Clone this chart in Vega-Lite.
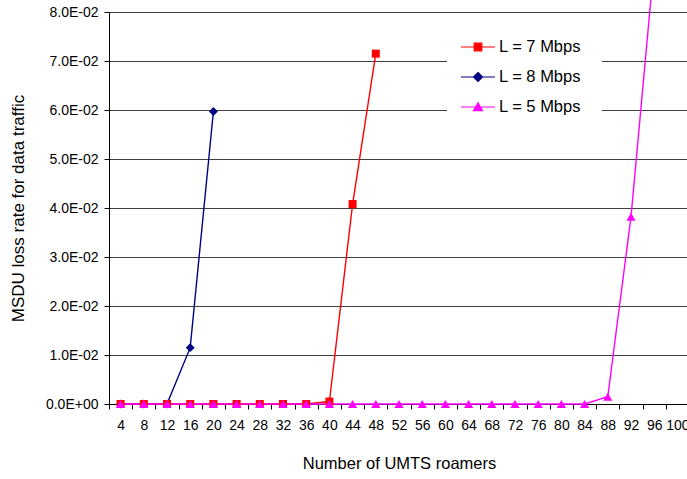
{
  "$schema": "https://vega.github.io/schema/vega-lite/v6.json",
  "width": 580,
  "height": 392,
  "autosize": {"type": "none"},
  "padding": {"left": 109, "top": 12, "right": 0, "bottom": 75},
  "background": "white",
  "config": {"view": {"stroke": null}, "font": "Liberation Sans"},
  "data": {"values": [
    {"series": "L = 8 Mbps", "roamers": 4, "loss": 0},
    {"series": "L = 8 Mbps", "roamers": 8, "loss": 0},
    {"series": "L = 8 Mbps", "roamers": 12, "loss": 0},
    {"series": "L = 8 Mbps", "roamers": 16, "loss": 0.0115},
    {"series": "L = 8 Mbps", "roamers": 20, "loss": 0.0597},
    {"series": "L = 7 Mbps", "roamers": 4, "loss": 0},
    {"series": "L = 7 Mbps", "roamers": 8, "loss": 0},
    {"series": "L = 7 Mbps", "roamers": 12, "loss": 0},
    {"series": "L = 7 Mbps", "roamers": 16, "loss": 0},
    {"series": "L = 7 Mbps", "roamers": 20, "loss": 0},
    {"series": "L = 7 Mbps", "roamers": 24, "loss": 0},
    {"series": "L = 7 Mbps", "roamers": 28, "loss": 0},
    {"series": "L = 7 Mbps", "roamers": 32, "loss": 0},
    {"series": "L = 7 Mbps", "roamers": 36, "loss": 0},
    {"series": "L = 7 Mbps", "roamers": 40, "loss": 0.0005},
    {"series": "L = 7 Mbps", "roamers": 44, "loss": 0.0408},
    {"series": "L = 7 Mbps", "roamers": 48, "loss": 0.0715},
    {"series": "L = 5 Mbps", "roamers": 4, "loss": 0},
    {"series": "L = 5 Mbps", "roamers": 8, "loss": 0},
    {"series": "L = 5 Mbps", "roamers": 12, "loss": 0},
    {"series": "L = 5 Mbps", "roamers": 16, "loss": 0},
    {"series": "L = 5 Mbps", "roamers": 20, "loss": 0},
    {"series": "L = 5 Mbps", "roamers": 24, "loss": 0},
    {"series": "L = 5 Mbps", "roamers": 28, "loss": 0},
    {"series": "L = 5 Mbps", "roamers": 32, "loss": 0},
    {"series": "L = 5 Mbps", "roamers": 36, "loss": 0},
    {"series": "L = 5 Mbps", "roamers": 40, "loss": 0},
    {"series": "L = 5 Mbps", "roamers": 44, "loss": 0},
    {"series": "L = 5 Mbps", "roamers": 48, "loss": 0},
    {"series": "L = 5 Mbps", "roamers": 52, "loss": 0},
    {"series": "L = 5 Mbps", "roamers": 56, "loss": 0},
    {"series": "L = 5 Mbps", "roamers": 60, "loss": 0},
    {"series": "L = 5 Mbps", "roamers": 64, "loss": 0},
    {"series": "L = 5 Mbps", "roamers": 68, "loss": 0},
    {"series": "L = 5 Mbps", "roamers": 72, "loss": 0},
    {"series": "L = 5 Mbps", "roamers": 76, "loss": 0},
    {"series": "L = 5 Mbps", "roamers": 80, "loss": 0},
    {"series": "L = 5 Mbps", "roamers": 84, "loss": 0},
    {"series": "L = 5 Mbps", "roamers": 88, "loss": 0.0015},
    {"series": "L = 5 Mbps", "roamers": 92, "loss": 0.0382},
    {"series": "L = 5 Mbps", "roamers": 96, "loss": 0.09}
  ]},
  "encoding": {
    "x": {
      "field": "roamers",
      "type": "ordinal",
      "title": "Number of UMTS roamers",
      "scale": {"type": "band", "domain": [4,8,12,16,20,24,28,32,36,40,44,48,52,56,60,64,68,72,76,80,84,88,92,96,100], "paddingInner": 0, "paddingOuter": 0},
      "axis": {
        "labelAngle": 0, "tickBand": "extent", "tickSize": 5, "tickColor": "black",
        "domainColor": "black", "domainWidth": 1, "grid": false,
        "labelFont": "Liberation Sans", "labelFontSize": 14, "labelColor": "black",
        "labelPadding": 9, "labelOverlap": false, "labelBound": false, "labelFlush": false,
        "titleFont": "Liberation Sans", "titleFontSize": 16.5, "titleFontWeight": "normal",
        "titleColor": "black", "titlePadding": 23
      }
    },
    "y": {
      "field": "loss",
      "type": "quantitative",
      "title": "MSDU loss rate for data traffic",
      "scale": {"domain": [0, 0.08], "nice": false},
      "axis": {
        "values": [0, 0.01, 0.02, 0.03, 0.04, 0.05, 0.06, 0.07, 0.08],
        "labelExpr": "replace(upper(format(datum.value, '.1e')), regexp('E[+-](?=[0-9]$)'), '$&0')",
        "tickSize": 5, "tickColor": "black", "domainColor": "black", "domainWidth": 1,
        "grid": true, "gridColor": "#404040", "gridWidth": 1,
        "labelFont": "Liberation Sans", "labelFontSize": 14, "labelColor": "black",
        "labelPadding": 6, "labelFlush": false, "labelOverlap": false,
        "titleFont": "Liberation Sans", "titleFontSize": 17, "titleFontWeight": "normal",
        "titleColor": "black", "titlePadding": 18
      }
    },
    "color": {
      "field": "series",
      "type": "nominal",
      "scale": {"domain": ["L = 7 Mbps", "L = 8 Mbps", "L = 5 Mbps"], "range": ["#FF0000", "#000080", "#FF00FF"]},
      "legend": {
        "orient": "none", "legendX": 338, "legendY": 4, "fillColor": "white",
        "padding": 20, "title": null, "labelFont": "Liberation Sans", "labelFontSize": 16.5,
        "labelColor": "black", "labelOffset": 10, "symbolSize": 400, "rowPadding": 10,
        "symbolOffset": 0,
        "encode": {
          "symbols": {
            "update": {
              "shape": {"signal": "datum.value === 'L = 7 Mbps' ? 'M-1.7,0H1.7M-0.38,-0.38H0.38V0.38H-0.38Z' : datum.value === 'L = 8 Mbps' ? 'M-1.7,0H1.7M0,-0.45L0.45,0L0,0.45L-0.45,0Z' : 'M-1.7,0H1.7M0,-0.42L0.45,0.36L-0.45,0.36Z'"},
              "size": {"value": 400},
              "fill": {"signal": "datum.value === 'L = 7 Mbps' ? '#FF0000' : datum.value === 'L = 8 Mbps' ? '#000080' : '#FF00FF'"},
              "stroke": {"signal": "datum.value === 'L = 7 Mbps' ? '#FF0000' : datum.value === 'L = 8 Mbps' ? '#000080' : '#FF00FF'"},
              "strokeWidth": {"value": 1.2},
              "opacity": {"value": 1}
            }
          }
        }
      }
    }
  },
  "layer": [
    {"mark": {"type": "line", "strokeWidth": 1.4}},
    {
      "transform": [{"filter": "datum.series === 'L = 8 Mbps' && datum.loss <= 0.08"}],
      "mark": {"type": "point", "shape": "diamond", "filled": true, "opacity": 1, "size": 80}
    },
    {
      "transform": [{"filter": "datum.series === 'L = 7 Mbps' && datum.loss <= 0.08"}],
      "mark": {"type": "point", "shape": "square", "filled": true, "opacity": 1, "size": 64}
    },
    {
      "transform": [{"filter": "datum.series === 'L = 5 Mbps' && datum.loss <= 0.08"}],
      "mark": {"type": "point", "shape": "triangle-up", "filled": true, "opacity": 1, "size": 85}
    }
  ]
}
